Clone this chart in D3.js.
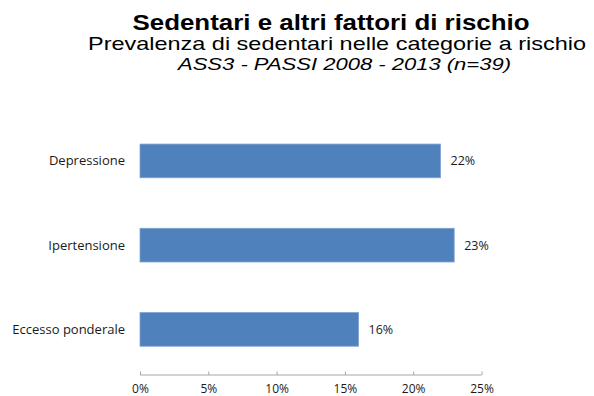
<!DOCTYPE html>
<html>
<head>
<meta charset="utf-8">
<script src="https://cdn.jsdelivr.net/npm/d3@7"></script>
<style>
  html, body { margin: 0; padding: 0; background: #fff; }
  svg { display: block; }
</style>
</head>
<body>
<svg id="chart" width="594" height="396"></svg>
<script>
// Categorie a rischio e prevalenza di sedentari (%)
const categories = ["Depressione", "Ipertensione", "Eccesso ponderale"];
const values = [22, 23, 16];
const tickValues = [0, 5, 10, 15, 20, 25];

const titleText = "Sedentari e altri fattori di rischio";
const subtitleText = "Prevalenza di sedentari nelle categorie a rischio";
const sourceText = "ASS3 - PASSI 2008 - 2013 (n=39)";

const svg = d3.select("#chart");
const labelFont = "'Open Sans', 'Noto Sans', sans-serif";
const titleFont = "'Liberation Sans', Arial, sans-serif";

const x = d3.scaleLinear().domain([0, 25]).range([140, 481.5]);
const y = d3.scaleBand()
  .domain(categories)
  .range([118.8, 371.5])
  .paddingInner(0.6)
  .paddingOuter(0.3);
const axisY = 375;

// Titoli
svg.append("text")
  .attr("x", 331).attr("y", 29.5)
  .attr("text-anchor", "middle")
  .attr("textLength", 397)
  .attr("lengthAdjust", "spacingAndGlyphs")
  .style("font-family", titleFont)
  .style("font-weight", "bold")
  .style("font-size", "22.5px")
  .attr("fill", "#000")
  .text(titleText);

svg.append("text")
  .attr("x", 337).attr("y", 49.5)
  .attr("text-anchor", "middle")
  .attr("textLength", 498)
  .attr("lengthAdjust", "spacingAndGlyphs")
  .style("font-family", titleFont)
  .style("font-size", "18.5px")
  .attr("fill", "#000")
  .text(subtitleText);

svg.append("text")
  .attr("x", 344.5).attr("y", 70)
  .attr("text-anchor", "middle")
  .attr("textLength", 333)
  .attr("lengthAdjust", "spacingAndGlyphs")
  .style("font-family", titleFont)
  .style("font-style", "italic")
  .style("font-size", "17px")
  .attr("fill", "#000")
  .text(sourceText);

// Barre
const data = categories.map((c, i) => ({ cat: c, val: values[i] }));

svg.append("g")
  .selectAll("rect")
  .data(data)
  .join("rect")
  .attr("x", x(0))
  .attr("y", d => y(d.cat))
  .attr("width", d => x(d.val) - x(0))
  .attr("height", y.bandwidth())
  .attr("fill", "#4F81BD")
  .attr("stroke", "#7FA3D0")
  .attr("stroke-width", 0.8);

// Etichette dei valori
svg.append("g")
  .selectAll("text")
  .data(data)
  .join("text")
  .attr("x", d => x(d.val) + 10)
  .attr("y", d => y(d.cat) + y.bandwidth() / 2)
  .attr("dy", "0.35em")
  .style("font-family", labelFont)
  .style("font-size", "12.5px")
  .attr("fill", "#1a1a1a")
  .text(d => d.val + "%");

// Etichette delle categorie
svg.append("g")
  .selectAll("text")
  .data(data)
  .join("text")
  .attr("x", 125)
  .attr("y", d => y(d.cat) + y.bandwidth() / 2)
  .attr("dy", "0.35em")
  .attr("text-anchor", "end")
  .style("font-family", labelFont)
  .style("font-size", "13px")
  .attr("fill", "#1a1a1a")
  .text(d => d.cat);

// Asse x
const xAxis = d3.axisBottom(x)
  .tickValues(tickValues)
  .tickSize(-3.5)
  .tickPadding(0)
  .tickFormat(d => d + "%");

const gx = svg.append("g")
  .attr("transform", `translate(0,${axisY})`)
  .call(xAxis);

gx.select(".domain")
  .attr("stroke", "#A6A6A6")
  .attr("d", `M${x(0)},0H${x(25)}`);
gx.selectAll(".tick line").attr("stroke", "#A6A6A6");
gx.selectAll(".tick text")
  .attr("y", 17.5)
  .attr("dy", 0)
  .style("font-family", labelFont)
  .style("font-size", "12px")
  .attr("fill", "#1a1a1a");
</script>
</body>
</html>
